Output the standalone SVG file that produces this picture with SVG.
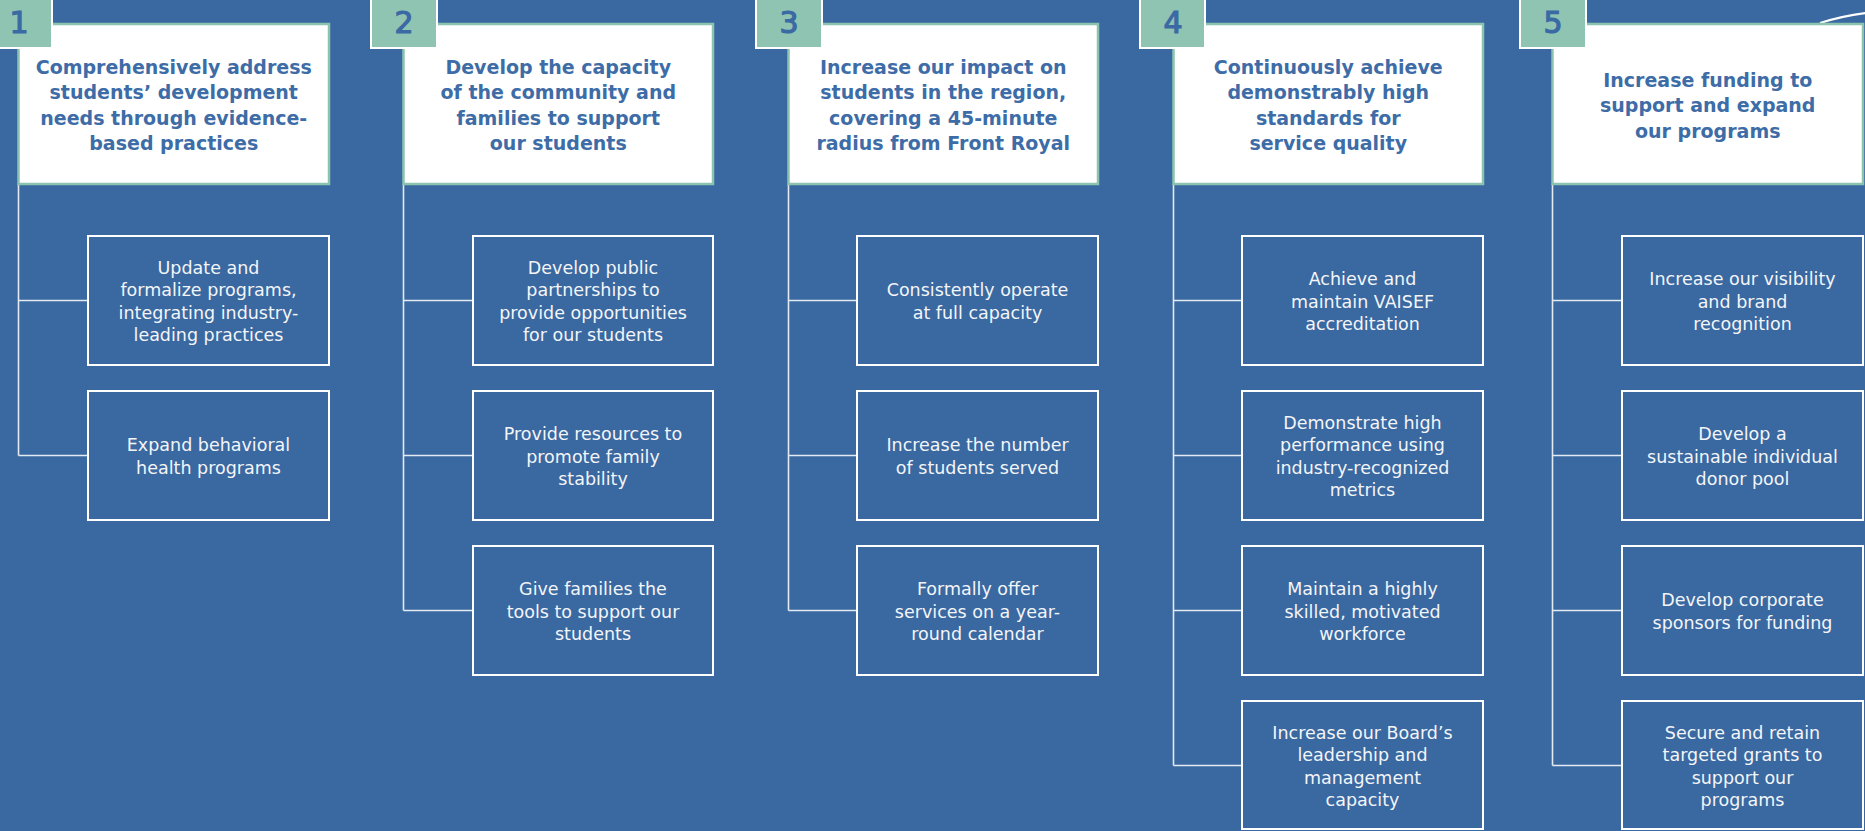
<svg xmlns="http://www.w3.org/2000/svg" width="1865" height="831" viewBox="0 0 1865 831">
  <style>
    .bg { fill: #3a68a0; }
    .head { fill: #ffffff; stroke: #8cc3ae; stroke-width: 2.5; }
    .tab { fill: #8fc4b2; stroke: #ffffff; stroke-width: 2; }
    .num { font-family: "DejaVu Sans", sans-serif; font-size: 30px; fill: #3b69a4; stroke: #3b69a4; stroke-width: 1.2; text-anchor: middle; }
    .htxt { font-family: "DejaVu Sans", sans-serif; font-weight: bold; font-size: 19px; fill: #3d6ca7; text-anchor: middle; }
    .box { fill: none; stroke: #ffffff; stroke-width: 2; }
    .btxt { font-family: "DejaVu Sans", sans-serif; font-size: 17.5px; fill: #f3f5f9; text-anchor: middle; }
    .conn { fill: none; stroke: #e4eaf2; stroke-width: 1.6; }
  </style>

  <rect class="bg" x="0" y="0" width="1865" height="831"/>

  <!-- decorative arc at top right -->
  <path d="M1820,23 Q1842,16 1866,13" fill="none" stroke="#ffffff" stroke-width="2"/>

  <!-- connectors -->
  <g id="connectors">
    <path class="conn" d="M18.5,184 V455.5 M18.5,300.5 H88 M18.5,455.5 H88"/>
    <path class="conn" d="M403.5,184 V610.5 M403.5,300.5 H473 M403.5,455.5 H473 M403.5,610.5 H473"/>
    <path class="conn" d="M788.5,184 V610.5 M788.5,300.5 H857 M788.5,455.5 H857 M788.5,610.5 H857"/>
    <path class="conn" d="M1173.5,184 V765.5 M1173.5,300.5 H1242 M1173.5,455.5 H1242 M1173.5,610.5 H1242 M1173.5,765.5 H1242"/>
    <path class="conn" d="M1552.5,184 V765.5 M1552.5,300.5 H1622 M1552.5,455.5 H1622 M1552.5,610.5 H1622 M1552.5,765.5 H1622"/>
  </g>

  <!-- goal 1 -->
  <g id="goal1">
    <rect class="head" x="18.5" y="24" width="310.5" height="160"/>
    <rect class="tab" x="-14" y="-2" width="66" height="50"/>
    <text class="num" x="19" y="33">1</text>
    <text class="htxt" x="173.75"><tspan x="173.75" y="73.75">Comprehensively address</tspan><tspan x="173.75" y="99.25">students’ development</tspan><tspan x="173.75" y="124.75">needs through evidence-</tspan><tspan x="173.75" y="150.25">based practices</tspan></text>
  </g>
  <g id="goal1-a">
    <rect class="box" x="88" y="236" width="241" height="129"/>
    <text class="btxt"><tspan x="208.5" y="273.75">Update and</tspan><tspan x="208.5" y="296.25">formalize programs,</tspan><tspan x="208.5" y="318.75">integrating industry-</tspan><tspan x="208.5" y="341.25">leading practices</tspan></text>
  </g>
  <g id="goal1-b">
    <rect class="box" x="88" y="391" width="241" height="129"/>
    <text class="btxt"><tspan x="208.5" y="451.25">Expand behavioral</tspan><tspan x="208.5" y="473.75">health programs</tspan></text>
  </g>

  <!-- goal 2 -->
  <g id="goal2">
    <rect class="head" x="403.5" y="24" width="309.5" height="160"/>
    <rect class="tab" x="371" y="-2" width="66" height="50"/>
    <text class="num" x="404" y="33">2</text>
    <text class="htxt"><tspan x="558.25" y="73.75">Develop the capacity</tspan><tspan x="558.25" y="99.25">of the community and</tspan><tspan x="558.25" y="124.75">families to support</tspan><tspan x="558.25" y="150.25">our students</tspan></text>
  </g>
  <g id="goal2-a">
    <rect class="box" x="473" y="236" width="240" height="129"/>
    <text class="btxt"><tspan x="593" y="273.75">Develop public</tspan><tspan x="593" y="296.25">partnerships to</tspan><tspan x="593" y="318.75">provide opportunities</tspan><tspan x="593" y="341.25">for our students</tspan></text>
  </g>
  <g id="goal2-b">
    <rect class="box" x="473" y="391" width="240" height="129"/>
    <text class="btxt"><tspan x="593" y="440">Provide resources to</tspan><tspan x="593" y="462.5">promote family</tspan><tspan x="593" y="485">stability</tspan></text>
  </g>
  <g id="goal2-c">
    <rect class="box" x="473" y="546" width="240" height="129"/>
    <text class="btxt"><tspan x="593" y="595">Give families the</tspan><tspan x="593" y="617.5">tools to support our</tspan><tspan x="593" y="640">students</tspan></text>
  </g>

  <!-- goal 3 -->
  <g id="goal3">
    <rect class="head" x="788.5" y="24" width="309.5" height="160"/>
    <rect class="tab" x="756" y="-2" width="66" height="50"/>
    <text class="num" x="789" y="33">3</text>
    <text class="htxt"><tspan x="943.25" y="73.75">Increase our impact on</tspan><tspan x="943.25" y="99.25">students in the region,</tspan><tspan x="943.25" y="124.75">covering a 45-minute</tspan><tspan x="943.25" y="150.25">radius from Front Royal</tspan></text>
  </g>
  <g id="goal3-a">
    <rect class="box" x="857" y="236" width="241" height="129"/>
    <text class="btxt"><tspan x="977.5" y="296.25">Consistently operate</tspan><tspan x="977.5" y="318.75">at full capacity</tspan></text>
  </g>
  <g id="goal3-b">
    <rect class="box" x="857" y="391" width="241" height="129"/>
    <text class="btxt"><tspan x="977.5" y="451.25">Increase the number</tspan><tspan x="977.5" y="473.75">of students served</tspan></text>
  </g>
  <g id="goal3-c">
    <rect class="box" x="857" y="546" width="241" height="129"/>
    <text class="btxt"><tspan x="977.5" y="595">Formally offer</tspan><tspan x="977.5" y="617.5">services on a year-</tspan><tspan x="977.5" y="640">round calendar</tspan></text>
  </g>

  <!-- goal 4 -->
  <g id="goal4">
    <rect class="head" x="1173.5" y="24" width="309.5" height="160"/>
    <rect class="tab" x="1140" y="-2" width="65" height="50"/>
    <text class="num" x="1173" y="33">4</text>
    <text class="htxt"><tspan x="1328.25" y="73.75">Continuously achieve</tspan><tspan x="1328.25" y="99.25">demonstrably high</tspan><tspan x="1328.25" y="124.75">standards for</tspan><tspan x="1328.25" y="150.25">service quality</tspan></text>
  </g>
  <g id="goal4-a">
    <rect class="box" x="1242" y="236" width="241" height="129"/>
    <text class="btxt"><tspan x="1362.5" y="285">Achieve and</tspan><tspan x="1362.5" y="307.5">maintain VAISEF</tspan><tspan x="1362.5" y="330">accreditation</tspan></text>
  </g>
  <g id="goal4-b">
    <rect class="box" x="1242" y="391" width="241" height="129"/>
    <text class="btxt"><tspan x="1362.5" y="428.75">Demonstrate high</tspan><tspan x="1362.5" y="451.25">performance using</tspan><tspan x="1362.5" y="473.75">industry-recognized</tspan><tspan x="1362.5" y="496.25">metrics</tspan></text>
  </g>
  <g id="goal4-c">
    <rect class="box" x="1242" y="546" width="241" height="129"/>
    <text class="btxt"><tspan x="1362.5" y="595">Maintain a highly</tspan><tspan x="1362.5" y="617.5">skilled, motivated</tspan><tspan x="1362.5" y="640">workforce</tspan></text>
  </g>
  <g id="goal4-d">
    <rect class="box" x="1242" y="701" width="241" height="128"/>
    <text class="btxt"><tspan x="1362.5" y="738.75">Increase our Board’s</tspan><tspan x="1362.5" y="761.25">leadership and</tspan><tspan x="1362.5" y="783.75">management</tspan><tspan x="1362.5" y="806.25">capacity</tspan></text>
  </g>

  <!-- goal 5 -->
  <g id="goal5">
    <rect class="head" x="1552.5" y="24" width="310.5" height="160"/>
    <rect class="tab" x="1520" y="-2" width="66" height="50"/>
    <text class="num" x="1553" y="33">5</text>
    <text class="htxt"><tspan x="1707.75" y="86.5">Increase funding to</tspan><tspan x="1707.75" y="112">support and expand</tspan><tspan x="1707.75" y="137.5">our programs</tspan></text>
  </g>
  <g id="goal5-a">
    <rect class="box" x="1622" y="236" width="241" height="129"/>
    <text class="btxt"><tspan x="1742.5" y="285">Increase our visibility</tspan><tspan x="1742.5" y="307.5">and brand</tspan><tspan x="1742.5" y="330">recognition</tspan></text>
  </g>
  <g id="goal5-b">
    <rect class="box" x="1622" y="391" width="241" height="129"/>
    <text class="btxt"><tspan x="1742.5" y="440">Develop a</tspan><tspan x="1742.5" y="462.5">sustainable individual</tspan><tspan x="1742.5" y="485">donor pool</tspan></text>
  </g>
  <g id="goal5-c">
    <rect class="box" x="1622" y="546" width="241" height="129"/>
    <text class="btxt"><tspan x="1742.5" y="606.25">Develop corporate</tspan><tspan x="1742.5" y="628.75">sponsors for funding</tspan></text>
  </g>
  <g id="goal5-d">
    <rect class="box" x="1622" y="701" width="241" height="128"/>
    <text class="btxt"><tspan x="1742.5" y="738.75">Secure and retain</tspan><tspan x="1742.5" y="761.25">targeted grants to</tspan><tspan x="1742.5" y="783.75">support our</tspan><tspan x="1742.5" y="806.25">programs</tspan></text>
  </g>
</svg>
